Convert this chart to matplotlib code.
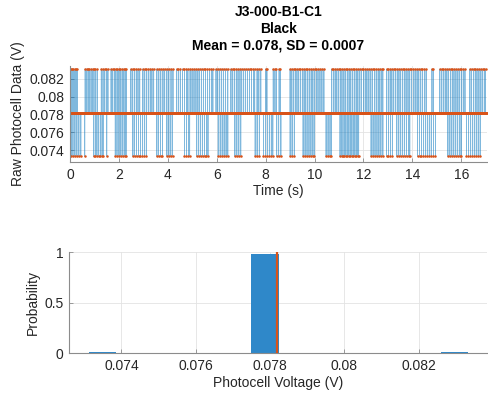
import numpy as np
import matplotlib
matplotlib.use("Agg")
import matplotlib.pyplot as plt

plt.rcParams["font.family"] = ["Liberation Sans", "DejaVu Sans"]

# recording: 1 kHz samples over ~17 s, sitting on one ADC level with single-sample jumps
sample_rate = 1000
duration = 17.0
level_base = 0.07816
level_high = 0.08307
level_low = 0.07333

# times (s) of single-sample jumps to the upper level
up_times = [
    0.05, 0.09, 0.14, 0.19, 0.24, 0.29,
    0.62, 0.68, 0.74, 0.79, 0.86, 0.92, 0.98, 1.04, 1.11,
    1.28, 1.35, 1.42, 1.49, 1.55,
    1.68, 1.74, 1.81, 1.87, 1.93, 2.00, 2.06, 2.13, 2.19, 2.25, 2.30,
    2.49, 2.56, 2.63, 2.71, 2.78, 2.85,
    2.98, 3.05, 3.12, 3.20, 3.28, 3.35, 3.42,
    3.55, 3.63, 3.71, 3.80, 3.87,
    3.96, 4.04, 4.13, 4.21,
    4.36, 4.43, 4.51, 4.60, 4.68, 4.76, 4.82,
    4.91, 4.99, 5.07, 5.15, 5.23, 5.30,
    5.38, 5.46, 5.54, 5.62, 5.70, 5.78, 5.84,
    5.97, 6.04, 6.12, 6.20, 6.28, 6.36, 6.45,
    6.58, 6.65, 6.72, 6.80, 6.87, 6.95, 7.02, 7.10, 7.18, 7.26, 7.34, 7.42, 7.50, 7.55,
    7.65, 7.72, 7.80,
    8.00, 8.05,
    8.31, 8.38, 8.44,
    8.55, 8.60,
    9.00, 9.07, 9.14, 9.21, 9.28, 9.35, 9.42, 9.50, 9.57, 9.64, 9.71, 9.78, 9.86, 9.93,
    10.00, 10.07, 10.14, 10.22, 10.30, 10.38,
    10.70, 10.77, 10.84, 10.91, 10.98, 11.05, 11.12, 11.20, 11.27, 11.34, 11.41, 11.48,
    11.56, 11.63, 11.70, 11.77, 11.85, 11.92, 12.00, 12.07, 12.14, 12.22, 12.30, 12.37,
    12.45, 12.52, 12.60, 12.67, 12.74, 12.79,
    12.95, 13.02, 13.09, 13.16, 13.23, 13.30, 13.38, 13.45, 13.52, 13.60, 13.67, 13.74,
    13.82, 13.89, 13.96, 14.04, 14.11, 14.19, 14.26, 14.34, 14.41, 14.49, 14.56,
    14.80, 14.86,
    15.12, 15.19, 15.26, 15.34, 15.41, 15.48, 15.56, 15.63, 15.70, 15.78, 15.86, 15.93,
    16.00, 16.08, 16.15,
    16.35, 16.42, 16.50, 16.57, 16.64, 16.72, 16.80, 16.87, 16.94, 16.99,
]

# times (s) of single-sample jumps to the lower level
down_times = [
    0.05, 0.12, 0.20, 0.28, 0.36, 0.44,
    0.60,
    0.96, 1.03, 1.10, 1.17, 1.24, 1.31, 1.35,
    1.50,
    1.85, 1.92, 2.00, 2.08, 2.16, 2.24, 2.29,
    2.57, 2.64, 2.72, 2.80, 2.88, 2.96, 3.04, 3.12,
    3.55, 3.62, 3.70, 3.78,
    3.96, 4.04, 4.12, 4.19,
    4.68, 4.76, 4.84, 4.89,
    5.18, 5.26, 5.34, 5.42, 5.50, 5.58, 5.64,
    6.06, 6.14, 6.22, 6.30, 6.38, 6.45,
    6.74, 6.82, 6.90, 6.98,
    7.57, 7.65, 7.74,
    7.91, 7.99, 8.07, 8.15, 8.23, 8.29,
    8.45, 8.53, 8.62,
    9.00, 9.08, 9.17,
    9.53, 9.61, 9.69, 9.77, 9.85, 9.93, 9.99,
    10.47, 10.55, 10.63, 10.69,
    11.04, 11.10, 11.16, 11.22, 11.28, 11.34, 11.40, 11.46, 11.52, 11.58, 11.64, 11.70,
    11.76, 11.80,
    12.31, 12.39, 12.47, 12.55, 12.63, 12.71, 12.79,
    12.94, 13.02, 13.10, 13.18,
    13.36, 13.44, 13.52, 13.60, 13.68, 13.76, 13.84, 13.89,
    14.21, 14.29, 14.37, 14.45, 14.53, 14.61, 14.69, 14.77,
    14.86, 14.94,
    15.45, 15.53, 15.61, 15.69, 15.77, 15.85, 15.93, 15.99,
    16.21, 16.29, 16.37, 16.45, 16.53, 16.61, 16.69, 16.77,
]

x_ticks_top = [0, 2, 4, 6, 8, 10, 12, 14, 16]
y_ticks_top = [0.074, 0.076, 0.078, 0.08, 0.082]
y_tick_labels_top = ["0.074", "0.076", "0.078", "0.08", "0.082"]
x_ticks_hist = [0.074, 0.076, 0.078, 0.08, 0.082]
x_tick_labels_hist = ["0.074", "0.076", "0.078", "0.08", "0.082"]
y_ticks_hist = [0, 0.5, 1]
y_tick_labels_hist = ["0", "0.5", "1"]

bin_start = 0.07312
bin_width = 0.00073
n_bins = 14

BLUE = "#0072BD"
ORANGE = "#D95319"
AX_GRAY = "#8c8c8c"
TXT = "#262626"

# build the sampled signal
n = int(duration * sample_rate)
t = np.arange(n) / sample_rate
v = np.full(n, level_base)
v[(np.array(up_times) * sample_rate).astype(int)] = level_high
# offset by one sample so an up and a down jump at the same time both show
v[(np.array(down_times) * sample_rate).astype(int) + 1] = level_low
mean_v = v.mean()
sd_v = v.std()


def style_axes(ax):
    for side in ["top", "right"]:
        ax.spines[side].set_visible(False)
    for side in ["left", "bottom"]:
        ax.spines[side].set_color(AX_GRAY)
        ax.spines[side].set_linewidth(0.8)
    ax.tick_params(direction="in", length=3, width=0.6, color=AX_GRAY,
                   labelcolor=TXT, labelsize=10, pad=4)
    ax.grid(True, color="#e3e3e3", linewidth=0.6)
    ax.set_axisbelow(True)


fig = plt.figure(figsize=(4.88, 4.01), dpi=100)

ax1 = fig.add_axes([70 / 488, 1 - 162 / 401, 417 / 488, 96 / 401])
ax1.plot(t, v, color=BLUE, linewidth=0.6, alpha=0.5)
ax1.plot(t, v, ".", color=ORANGE, markersize=3.6, markeredgewidth=0)
ax1.set_xlim(0, 17.05)
ax1.set_ylim(0.0727, 0.0834)
ax1.set_xticks(x_ticks_top)
ax1.set_yticks(y_ticks_top)
ax1.set_yticklabels(y_tick_labels_top)
ax1.set_xlabel("Time (s)", fontsize=10, color=TXT, labelpad=2)
ax1.set_ylabel("Raw Photocell Data (V)", fontsize=10, color=TXT, labelpad=3)
ax1.set_title("J3-000-B1-C1\nBlack\nMean = %.3f, SD = %.4f" % (mean_v, sd_v),
              fontsize=10, fontweight="bold", color="black",
              linespacing=1.22, pad=12)
style_axes(ax1)

edges = bin_start + bin_width * np.arange(n_bins + 1)
ax2 = fig.add_axes([69 / 488, 1 - 353.3 / 401, 418 / 488, 101 / 401])
ax2.hist(v, bins=edges, weights=np.ones(n) / n, color="#2f88c9",
         edgecolor="none", zorder=2)
ax2.plot([mean_v, mean_v], [0, 1], color=ORANGE, linewidth=1.6, zorder=3)
ax2.set_xlim(0.07259, 0.08384)
ax2.set_ylim(0, 1)
ax2.set_xticks(x_ticks_hist)
ax2.set_xticklabels(x_tick_labels_hist)
ax2.set_yticks(y_ticks_hist)
ax2.set_yticklabels(y_tick_labels_hist)
ax2.set_xlabel("Photocell Voltage (V)", fontsize=10, color=TXT, labelpad=2)
ax2.set_ylabel("Probability", fontsize=10, color=TXT, labelpad=3)
style_axes(ax2)

fig.savefig("out.png", dpi=100)
